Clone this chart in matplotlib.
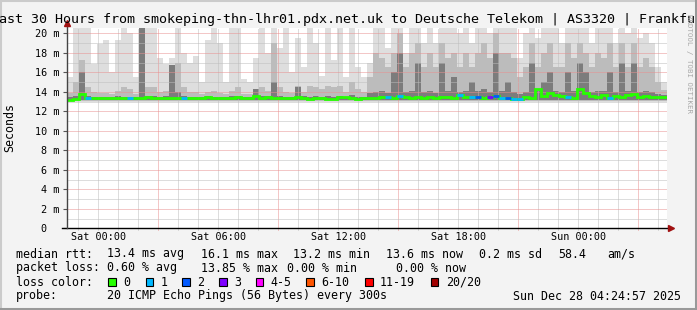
import numpy as np
import matplotlib
matplotlib.use("Agg")
import matplotlib.pyplot as plt
from matplotlib.patches import Rectangle
from matplotlib.lines import Line2D

W, H = 697, 310
plt.rcParams['font.family'] = 'DejaVu Sans Mono'

# --- datos: 100 intervalos de 18 min, horas relativas a Sat 00:00 ---
t_start = -1.583
t_end = 28.417

# borde superior del humo claro (ms)
smoke_top = [15.5, 21, 21, 21, 16.9, 18.9, 19.3, 16.0, 19.3, 21, 20.0, 15.5, 21, 21, 21, 17.5, 16.9,
             17.5, 21, 18, 17, 17.7, 15, 19.3, 21, 19, 15, 21, 21, 15.3, 15, 17.5, 20.5,
             18, 21, 18.5, 21, 16, 19.5, 16.5, 21, 19, 15.6, 21, 17.3, 21, 15.5, 21, 16.5, 15.5,
             17, 21, 21, 18.5, 21, 21, 18, 21, 21, 19, 21, 19, 21, 21, 21, 20, 21,
             19, 21, 21, 20, 21, 21, 21, 21, 17.5, 20, 21, 19.5, 21, 21, 21, 19,
             21, 21, 21, 21, 19, 21, 21, 21, 19, 21, 20, 21, 19.5, 20, 19, 16.5, 15]
# humo intermedio
smoke_mid = [13.9, 15.0, 17.3, 14.5, 14.0, 13.9, 13.9, 13.8, 14.1, 14.5, 14.3, 13.8, 21, 14.5, 14.5, 14.0, 14.1,
             16, 17, 14.5, 14.0, 14.0, 13.8, 14.0, 14.1, 13.9, 13.8, 14.1, 14.5, 13.8, 13.8, 14.1, 14.5,
             14.1, 19, 14.5, 14.0, 13.9, 14.6, 14.0, 14.6, 14.5, 14.3, 14.6, 14.5, 14.6, 14.0, 15.0, 14.3, 14.0,
             15.5, 18, 17.5, 16.5, 18, 20, 16.5, 18, 19, 16.5, 18, 16.5, 19, 17.5, 18, 16.5, 18,
             16.5, 18, 19, 17.5, 20, 18, 18, 17.5, 15.5, 16.5, 19, 16.5, 18, 19, 16.5, 16.5,
             19, 17.5, 19, 18, 16.5, 18, 17.5, 19, 16.5, 19, 16.5, 19, 16.5, 17.5, 16.5, 15, 14.2]
# humo oscuro (nucleo)
smoke_dark = [13.5, 13.55, 16.0, 13.55, 13.5, 13.5, 13.5, 13.5, 13.55, 13.5, 13.5, 13.5, 21, 13.55, 13.55, 13.5, 13.55,
              16.8, 14.0, 13.55, 13.5, 13.5, 13.5, 13.55, 13.5, 13.5, 13.5, 13.55, 13.55, 13.5, 13.5, 14.3, 13.55,
              13.55, 15.0, 13.55, 13.5, 13.5, 14.5, 13.55, 13.5, 13.55, 13.5, 13.55, 13.5, 13.55, 13.5, 13.7, 13.5, 13.5,
              13.9, 14.0, 14.1, 13.9, 16.0, 18.0, 14.0, 14.1, 17.0, 14.0, 14.1, 13.9, 17.0, 14.1, 15.5, 14.0, 14.1,
              15.0, 14.1, 14.3, 14.0, 18.0, 14.1, 15.0, 14.0, 13.8, 14.0, 17.0, 14.1, 15.0, 16.0, 14.1, 14.0,
              16.0, 14.1, 17.0, 16.0, 14.0, 14.1, 14.1, 16.0, 14.0, 17.0, 14.1, 17.0, 14.0, 14.1, 14.0, 13.8, 13.7]
# mediana rtt (ms)
median_rtt = [13.2, 13.25, 13.8, 13.4, 13.35, 13.4, 13.4, 13.35, 13.4, 13.35, 13.4, 13.35, 13.4, 13.45, 13.4, 13.35, 13.4,
              13.4, 13.35, 13.4, 13.4, 13.35, 13.4, 13.45, 13.4, 13.4, 13.35, 13.4, 13.45, 13.4, 13.4, 13.6, 13.4,
              13.45, 13.4, 13.4, 13.35, 13.4, 13.45, 13.4, 13.3, 13.35, 13.4, 13.3, 13.25, 13.5, 13.45, 13.35, 13.3, 13.4,
              13.35, 13.4, 13.45, 13.5, 13.4, 13.6, 13.5, 13.4, 13.45, 13.4, 13.5, 13.4, 13.5, 13.45, 13.4, 13.7, 13.5,
              13.45, 13.5, 13.4, 13.45, 13.6, 13.35, 13.4, 13.3, 13.25, 13.5, 13.4, 14.3, 13.6, 13.9, 13.7, 13.6,
              13.5, 13.4, 14.3, 13.9, 13.6, 13.5, 13.7, 13.4, 13.6, 13.5, 13.7, 13.8, 13.5, 13.6, 13.5, 13.45, 13.5]
# pérdida (índice de color)
loss_idx = [0, 0, 0, 1, 0, 0, 0, 0, 0, 0, 1, 0, 0, 0, 0, 0, 0,
            0, 0, 1, 0, 0, 0, 0, 0, 0, 0, 0, 0, 0, 0, 0, 0,
            0, 0, 0, 0, 0, 0, 0, 0, 0, 0, 0, 0, 0, 0, 0, 0, 0,
            0, 0, 0, 1, 0, 1, 0, 0, 0, 0, 0, 0, 0, 0, 0, 1, 0,
            1, 2, 0, 3, 2, 1, 2, 1, 1, 0, 0, 0, 0, 0, 0, 0,
            1, 0, 0, 0, 0, 0, 0, 1, 0, 0, 0, 0, 0, 0, 0, 0, 0]

loss_labels = ['0', '1', '2', '3', '4-5', '6-10', '11-19', '20/20']
loss_colors = ['#26ff00', '#00b8ff', '#0059ff', '#7e00ff', '#ff00ff', '#ff5500', '#ff0000', '#a10000']

xtick_pos = [0, 6, 12, 18, 24]
xtick_lab = ['Sat 00:00', 'Sat 06:00', 'Sat 12:00', 'Sat 18:00', 'Sun 00:00']
ytick_pos = [0, 2, 4, 6, 8, 10, 12, 14, 16, 18, 20]
ytick_lab = ['0  ', '2 m', '4 m', '6 m', '8 m', '10 m', '12 m', '14 m', '16 m', '18 m', '20 m']

# --- figura ---
fig = plt.figure(figsize=(W/100, H/100), dpi=100, facecolor='#f3f3f3')

x0, x1, ytop, ybot = 66.7, 666.7, 27.5, 228.3
ax = fig.add_axes([x0/W, 1-ybot/H, (x1-x0)/W, (ybot-ytop)/H])
ax.set_xlim(t_start, t_end)
ax.set_ylim(0, (ybot-ytop)/9.75)
ax.set_facecolor('white')
for s in ax.spines.values():
    s.set_visible(False)

edges = np.linspace(t_start, t_end, len(median_rtt)+1)
ax.stairs(smoke_top, edges, baseline=13.0, fill=True, color='#dedede', zorder=1)
ax.stairs(smoke_mid, edges, baseline=13.1, fill=True, color='#bcbcbc', zorder=2)
ax.stairs(smoke_dark, edges, baseline=13.2, fill=True, color='#7c7c7c', zorder=3)

# grilla punteada
dot = (0, (1, 1))
red_grid, gray_grid = '#e89090', '#bdbdbd'
for h in range(-1, 29):
    c = red_grid if h % 6 == 3 else gray_grid
    ax.axvline(h, ymin=-2/200.8, color=c, lw=0.72, ls=dot, zorder=4, clip_on=False)
for v in range(1, 21):
    c = red_grid if v % 2 == 0 else gray_grid
    ax.axhline(v, color=c, lw=0.72, ls=dot, zorder=4)

# mediana coloreada por pérdida
ax.stairs(median_rtt, edges, baseline=None, color=loss_colors[0], lw=2.0, zorder=5)
for i, li in enumerate(loss_idx):
    if li > 0:
        ax.hlines(median_rtt[i], edges[i], edges[i+1], color=loss_colors[li], lw=2.0, zorder=6)

ax.set_xticks(xtick_pos, xtick_lab)
ax.set_yticks(ytick_pos, ytick_lab)
ax.tick_params(axis='x', length=0, pad=3.0, labelsize=7.3)
ax.tick_params(axis='y', length=3, width=0.8, color='#555555', pad=2.4, labelsize=7.3)

def px(x, y):
    return x/W, 1-y/H

# ejes con flechas
fig.add_artist(Line2D([62/W, 669/W], [1-ybot/H]*2, color='black', lw=1))
fig.add_artist(Line2D([x0/W]*2, [1-ybot/H, 1-24/H], color='#444444', lw=1))
fig.add_artist(Line2D([671/W], [1-ybot/H], marker='>', ms=4.5, color='#a01010', lw=0))
fig.add_artist(Line2D([x0/W], [1-23/H], marker='^', ms=4.5, color='#a01010', lw=0))

# textos
fig.text(*px(-9, 19.5), 'Last 30 Hours from smokeping-thn-lhr01.pdx.net.uk to Deutsche Telekom | AS3320 | Frankfurt',
         fontsize=9.6, ha='left', va='center')
fig.text(*px(10, 128), 'Seconds', fontsize=8.4, rotation=90, ha='center', va='center')
fig.text(*px(689, 63), 'RRDTOOL / TOBI OETIKER', fontsize=5.3, rotation=270, ha='center', va='center',
         color='#a8a8a8')

fs = 8.4
line1 = [(16, 'median rtt:'), (107.3, '13.4 ms avg'), (201, '16.1 ms max'), (293.3, '13.2 ms min'),
         (386, '13.6 ms now'), (479.3, '0.2 ms sd'), (558.3, '58.4'), (607.7, 'am/s')]
line2 = [(16, 'packet loss:'), (107.3, '0.60 % avg'), (201, '13.85 % max'), (287.3, '0.00 % min'),
         (396, '0.00 % now')]
for x, s in line1:
    fig.text(*px(x, 254), s, fontsize=fs, ha='left', va='center')
for x, s in line2:
    fig.text(*px(x, 268), s, fontsize=fs, ha='left', va='center')

fig.text(*px(16, 282), 'loss color:', fontsize=fs, ha='left', va='center')
box_x = [108.3, 145.7, 182.3, 219, 255.7, 306.3, 365, 430.7]
for bx, lab, col in zip(box_x, loss_labels, loss_colors):
    fig.add_artist(Rectangle(px(bx, 286), 7.7/W, 7.7/H, facecolor=col, edgecolor='black', lw=0.8,
                             transform=fig.transFigure))
    fig.text(*px(bx+15, 282), lab, fontsize=fs, ha='left', va='center')

fig.text(*px(16, 296), 'probe:', fontsize=fs, ha='left', va='center')
fig.text(*px(107.3, 296), '20 ICMP Echo Pings (56 Bytes) every 300s', fontsize=fs, ha='left', va='center')
fig.text(*px(681, 296), 'Sun Dec 28 04:24:57 2025', fontsize=fs, ha='right', va='center')

# marco 3D
fig.add_artist(Line2D([0, 1], [1-1/H]*2, color='#cbcbcb', lw=1.5))
fig.add_artist(Line2D([1/W]*2, [0, 1], color='#cbcbcb', lw=1.5))
fig.add_artist(Line2D([0, 1], [1.5/H]*2, color='#999999', lw=2.2))
fig.add_artist(Line2D([1-1.5/W]*2, [0, 1], color='#999999', lw=2.2))

fig.savefig('out.png', dpi=100, facecolor=fig.get_facecolor())
